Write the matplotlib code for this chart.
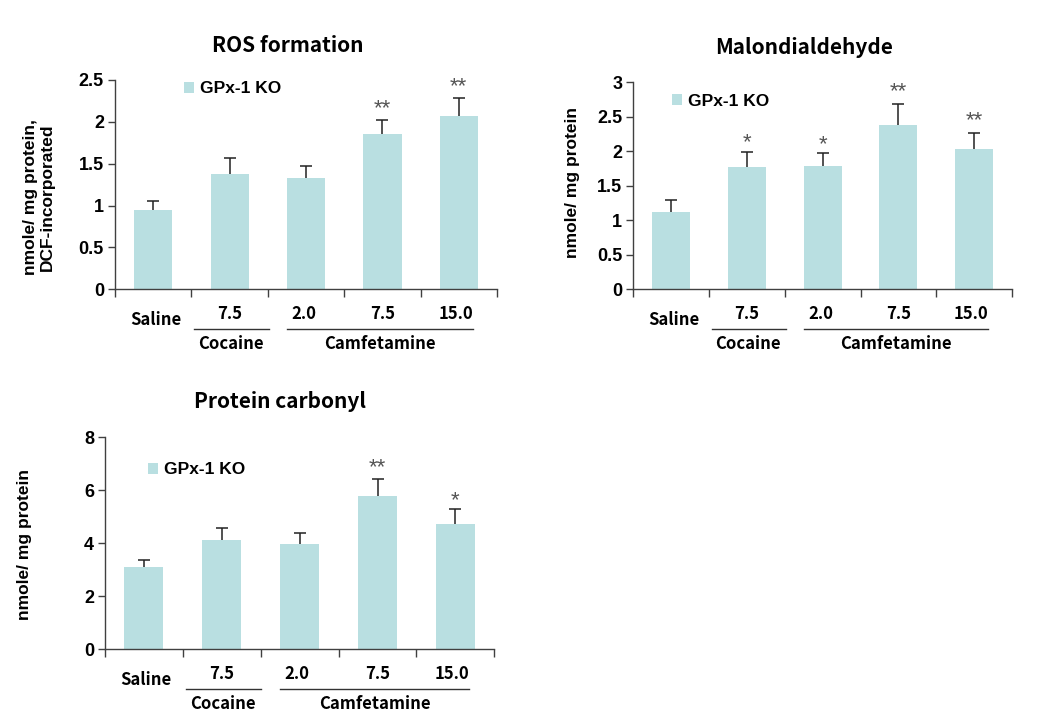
import matplotlib
matplotlib.use("Agg")
import matplotlib.pyplot as plt
import numpy as np

# ---------------- data ----------------
categories = ["Saline", "7.5", "2.0", "7.5", "15.0"]
groups = ["Cocaine", "Camfetamine"]
legend_label = "GPx-1 KO"

ros_titles = "ROS formation"
ros_values = [0.95, 1.38, 1.33, 1.86, 2.07]
ros_errors = [0.10, 0.19, 0.14, 0.16, 0.21]
ros_sig = ["", "", "", "**", "**"]
ros_ylabel = "nmole/ mg protein,\nDCF-incorporated"
ros_yticks = [0, 0.5, 1, 1.5, 2, 2.5]

mda_title = "Malondialdehyde"
mda_values = [1.12, 1.77, 1.79, 2.38, 2.03]
mda_errors = [0.17, 0.22, 0.18, 0.31, 0.24]
mda_sig = ["", "*", "*", "**", "**"]
mda_ylabel = "nmole/ mg protein"
mda_yticks = [0, 0.5, 1, 1.5, 2, 2.5, 3]

pc_title = "Protein carbonyl"
pc_values = [3.09, 4.11, 3.98, 5.77, 4.73]
pc_errors = [0.27, 0.48, 0.39, 0.65, 0.55]
pc_sig = ["", "", "", "**", "*"]
pc_ylabel = "nmole/ mg protein"
pc_yticks = [0, 2, 4, 6, 8]

# ---------------- style ----------------
W, H = 1040, 724
BAR = "#B9DFE1"
SPINE = "#404040"
KFONT = ["Noto Sans CJK KR", "DejaVu Sans"]
AFONT = ["Liberation Sans", "DejaVu Sans"]

fig = plt.figure(figsize=(W / 100, H / 100), dpi=100)
fig.patch.set_facecolor("white")


def panel(box, title, title_xy, values, errors, sig, ylabel, ylabel_xy, yticks,
          leg_anchor, ytickfmt):
    left, top, right, bottom = box
    ax = fig.add_axes([left / W, 1 - bottom / H, (right - left) / W, (bottom - top) / H])
    hpx = bottom - top
    x = np.arange(len(values))
    ax.bar(x, values, width=0.5, color=BAR, label=legend_label, zorder=2)
    eb = ax.errorbar(x, values, yerr=[np.zeros(len(errors)), errors], fmt="none",
                     ecolor="#222222", elinewidth=1.1, capsize=4, capthick=1.1, zorder=3)
    eb[1][0].set_visible(False)
    ax.set_xlim(-0.5, len(values) - 0.5)
    ax.set_ylim(yticks[0], yticks[-1])
    ax.set_yticks(yticks)
    ax.set_yticklabels([ytickfmt(t) for t in yticks], fontfamily=AFONT,
                       fontweight="bold", fontsize=13)
    ax.set_xticks(np.arange(-0.5, len(values), 1.0))
    ax.set_xticklabels([])
    ax.tick_params(axis="x", direction="out", length=6, width=1, color=SPINE)
    ax.tick_params(axis="y", direction="out", length=5, width=1, color=SPINE, pad=3)
    for s in ["top", "right"]:
        ax.spines[s].set_visible(False)
    for s in ["left", "bottom"]:
        ax.spines[s].set_color(SPINE)
        ax.spines[s].set_linewidth(1)

    # significance stars
    for xi, v, e, s in zip(x, values, errors, sig):
        if s:
            ax.annotate(s, (xi, v + e), xytext=(0, 1 if s == "**" else -1),
                        textcoords="offset points", ha="center", va="bottom",
                        fontsize=16, color="#555555", fontfamily=AFONT)

    # category labels
    tr = ax.get_xaxis_transform()
    ax.text(0.03, -31 / hpx, categories[0], transform=tr, ha="center", va="center",
            fontsize=12, fontweight="bold", fontfamily=KFONT)
    for xi, lab in zip([1.0, 1.97, 3.0, 3.96], categories[1:]):
        ax.text(xi, -25 / hpx, lab, transform=tr, ha="center", va="center",
                fontsize=12, fontweight="bold", fontfamily=KFONT)
    ax.plot([0.54, 1.51], [-39.5 / hpx] * 2, transform=tr, color="#333333", lw=1,
            clip_on=False)
    ax.plot([1.75, 4.18], [-39.5 / hpx] * 2, transform=tr, color="#333333", lw=1,
            clip_on=False)
    ax.text(1.02, -55 / hpx, groups[0], transform=tr, ha="center", va="center",
            fontsize=12, fontweight="bold", fontfamily=KFONT)
    ax.text(2.97, -55 / hpx, groups[1], transform=tr, ha="center", va="center",
            fontsize=12, fontweight="bold", fontfamily=KFONT)

    # legend
    ax.legend(loc="center left", bbox_to_anchor=leg_anchor, frameon=False,
              handlelength=0.6, handleheight=0.6, handletextpad=0.35,
              borderpad=0, borderaxespad=0,
              prop={"family": AFONT, "weight": "bold", "size": 12.5})

    # title and y label
    fig.text(title_xy[0] / W, 1 - title_xy[1] / H, title, ha="center", va="center",
             fontsize=15, fontweight="bold", fontfamily=KFONT)
    fig.text(ylabel_xy[0] / W, 1 - ylabel_xy[1] / H, ylabel, ha="center", va="center",
             rotation=90, fontsize=12.5, fontweight="bold", fontfamily=AFONT,
             linespacing=1.15)
    return ax


def fmt_dec(t):
    return ("%g" % t)


panel((115, 80, 497, 289.3), ros_titles, (288, 46), ros_values, ros_errors, ros_sig,
      ros_ylabel, (39, 197), ros_yticks, (0.18, 0.958), fmt_dec)
panel((633.3, 82.3, 1012, 289.3), mda_title, (804, 47), mda_values, mda_errors, mda_sig,
      mda_ylabel, (572, 182), mda_yticks, (0.101, 0.908), fmt_dec)
panel((105, 437.3, 494.3, 649.3), pc_title, (280, 402), pc_values, pc_errors, pc_sig,
      pc_ylabel, (25, 545), pc_yticks, (0.11, 0.846), fmt_dec)

fig.savefig("out.png", dpi=100, facecolor="white")
